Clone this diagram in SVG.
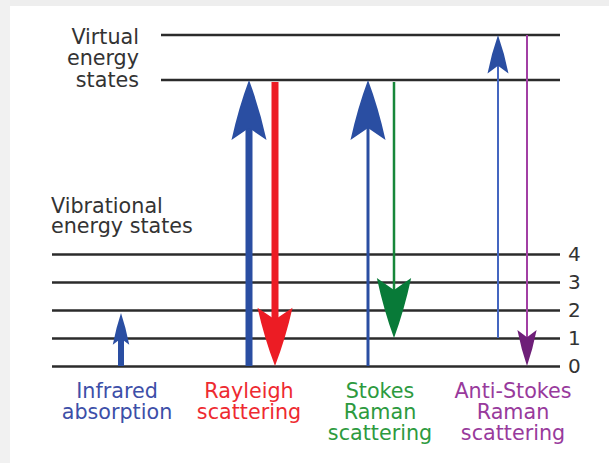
<svg xmlns="http://www.w3.org/2000/svg" width="609" height="463" viewBox="0 0 609 463">
<style>
text{font-family:"DejaVu Sans","Liberation Sans",sans-serif;font-size:20.7px}
.lbl{fill:#333}
.lvl{stroke:#2b2b2b;stroke-width:2.4;fill:none}
.num{fill:#333;font-size:20px}
.mid{text-anchor:middle}
</style>
<defs>
<path id="head" d="M0,0 Q10.5,28 17.5,60 L0,48 L-17.5,60 Q-10.5,28 0,0 Z"/>
</defs>
<rect x="0" y="0" width="609" height="463" fill="#ffffff"/>
<rect x="0" y="0" width="609" height="6" fill="#eeeeee"/>
<rect x="0" y="0" width="10" height="463" fill="#f1f1f1"/>

<g id="levels">
<line class="lvl" x1="161" y1="35" x2="560" y2="35"/>
<line class="lvl" x1="161" y1="80" x2="560" y2="80"/>
<line class="lvl" x1="52" y1="254.5" x2="560" y2="254.5"/>
<line class="lvl" x1="52" y1="282.5" x2="560" y2="282.5"/>
<line class="lvl" x1="52" y1="310.5" x2="560" y2="310.5"/>
<line class="lvl" x1="52" y1="338.5" x2="560" y2="338.5"/>
<line class="lvl" x1="52" y1="366.5" x2="560" y2="366.5"/>
</g>

<g id="level-labels">
<text class="lbl" x="139" y="44" text-anchor="end">Virtual</text>
<text class="lbl" x="139" y="65" text-anchor="end">energy</text>
<text class="lbl" x="139" y="87" text-anchor="end">states</text>
<text class="lbl" x="51" y="213">Vibrational</text>
<text class="lbl" x="51" y="233">energy states</text>
<text class="num" x="568" y="261">4</text>
<text class="num" x="568" y="289">3</text>
<text class="num" x="568" y="317">2</text>
<text class="num" x="568" y="345">1</text>
<text class="num" x="568" y="373">0</text>
</g>

<g id="connectors">
<!-- Infrared absorption -->
<line x1="121" y1="366" x2="121" y2="335" stroke="#2a4ea2" stroke-width="6"/>
<use href="#head" fill="#2a4ea2" transform="translate(121,313) scale(0.47,0.53)"/>
<!-- Rayleigh -->
<line x1="249" y1="366" x2="249" y2="120" stroke="#2a4ea2" stroke-width="7"/>
<use href="#head" fill="#2a4ea2" transform="translate(249,80)"/>
<line x1="275" y1="82" x2="275" y2="330" stroke="#ec1c24" stroke-width="7"/>
<use href="#head" fill="#ec1c24" transform="translate(275,366) rotate(180) scale(1,0.97)"/>
<!-- Stokes -->
<line x1="368" y1="366" x2="368" y2="120" stroke="#2a4ea2" stroke-width="3"/>
<use href="#head" fill="#2a4ea2" transform="translate(368,80)"/>
<line x1="394" y1="82" x2="394" y2="300" stroke="#17873a" stroke-width="2.5"/>
<use href="#head" fill="#087a38" transform="translate(394,338) rotate(180) scale(0.98,1)"/>
<!-- Anti-Stokes -->
<line x1="498" y1="338" x2="498" y2="60" stroke="#4466c0" stroke-width="2"/>
<use href="#head" fill="#2a4ea2" transform="translate(498,35) scale(0.6,0.64)"/>
<line x1="527" y1="35" x2="527" y2="345" stroke="#a23fa4" stroke-width="2"/>
<use href="#head" fill="#6e1f78" transform="translate(527,366) rotate(180) scale(0.55,0.6)"/>
</g>

<g id="infrared">
<text class="mid" x="117" y="398" fill="#3d4fa8">Infrared</text>
<text class="mid" x="117" y="419" fill="#3d4fa8">absorption</text>
</g>
<g id="rayleigh">
<text class="mid" x="249" y="398" fill="#ee2a30">Rayleigh</text>
<text class="mid" x="249" y="419" fill="#ee2a30">scattering</text>
</g>
<g id="stokes">
<text class="mid" x="380" y="398" fill="#2d9a3e">Stokes</text>
<text class="mid" x="380" y="419" fill="#2d9a3e">Raman</text>
<text class="mid" x="380" y="440" fill="#2d9a3e">scattering</text>
</g>
<g id="antistokes">
<text class="mid" x="513" y="398" fill="#983a9c">Anti-Stokes</text>
<text class="mid" x="513" y="419" fill="#983a9c">Raman</text>
<text class="mid" x="513" y="440" fill="#983a9c">scattering</text>
</g>
</svg>
